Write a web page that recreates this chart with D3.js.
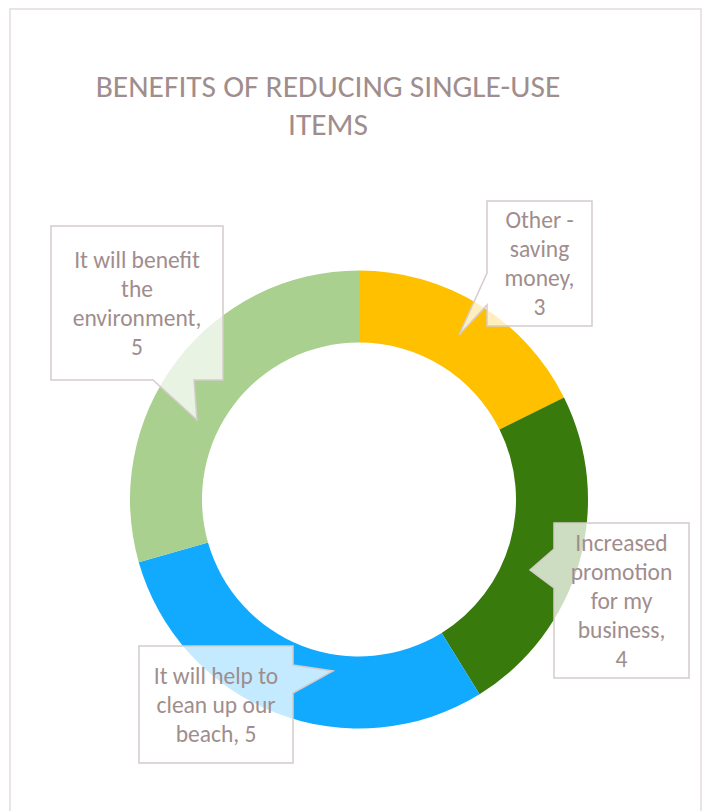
<!DOCTYPE html>
<html>
<head>
<meta charset="utf-8">
<script src="https://cdn.jsdelivr.net/npm/d3@7"></script>
<style>
  body { margin: 0; background: #fff; }
  text { font-family: Carlito, Lato, "Open Sans", sans-serif; }
</style>
</head>
<body>
<svg id="chart" width="703" height="811"></svg>
<script>
// chart data
var categories = ["Other - saving money", "Increased promotion for my business", "It will help to clean up our beach", "It will benefit the environment"];
var values = [3, 4, 5, 5];
var colors = ["#FFC000", "#387A0B", "#12AAFF", "#A9D08E"];
var labelLines = [
  ["Other -", "saving", "money,", "3"],
  ["Increased", "promotion", "for my", "business,", "4"],
  ["It will help to", "clean up our", "beach, 5"],
  ["It will benefit", "the", "environment,", "5"]
];
var titleLines = ["BENEFITS OF REDUCING SINGLE-USE", "ITEMS"];

// callout layout: box x0,y0,x1,y1, tail base + tip + base
var callouts = [
  {box: [487, 201, 592, 326], tail: [[487, 273], [459, 335], [487, 305]]},
  {box: [554, 523, 689, 678], tail: [[554, 549], [530, 570], [554, 588]]},
  {box: [139, 646, 293, 763], tail: [[293, 665], [333, 671], [293, 693]]},
  {box: [51, 226, 223, 380], tail: [[153, 380], [197, 420], [194, 380]]}
];

var svg = d3.select('#chart');
var cx = 359, cy = 499.5, outerR = 229, innerR = 157;
var textColor = '#A08D8D';

// chart frame
svg.append('rect')
  .attr('x', 10).attr('y', 9).attr('width', 691).attr('height', 820)
  .attr('fill', '#fff').attr('stroke', '#E3DBDB').attr('stroke-width', 1.5);

// title
svg.append('text')
  .attr('text-anchor', 'middle')
  .attr('fill', textColor)
  .style('font-size', '31.5px')
  .selectAll('tspan').data(titleLines).enter()
  .append('tspan')
  .attr('x', 328)
  .attr('y', (d, i) => 97 + i * 38)
  .text(d => d);

var pie = d3.pie().sort(null).value(d => d);
var arc = d3.arc().innerRadius(innerR).outerRadius(outerR);

var g = svg.append('g').attr('transform', `translate(${cx},${cy})`);
g.selectAll('path').data(pie(values)).enter()
  .append('path')
  .attr('d', arc)
  .attr('fill', (d, i) => colors[i]);

// callouts
var line = d3.line();
callouts.forEach(function (c, i) {
  var b = c.box, t = c.tail;
  var pts;
  if (t[0][0] === b[0] && t[2][0] === b[0]) {
    // tail on left side
    pts = [[b[0], b[1]], [b[2], b[1]], [b[2], b[3]], [b[0], b[3]], t[2], t[1], t[0]];
  } else if (t[0][0] === b[2]) {
    // tail on right side
    pts = [[b[0], b[1]], [b[2], b[1]], t[0], t[1], t[2], [b[2], b[3]], [b[0], b[3]]];
  } else {
    // tail on bottom
    pts = [[b[0], b[1]], [b[2], b[1]], [b[2], b[3]], t[2], t[1], t[0], [b[0], b[3]]];
  }
  svg.append('path')
    .attr('d', line(pts) + 'Z')
    .attr('fill', 'rgba(255,255,255,0.75)')
    .attr('stroke', '#D5CBCB')
    .attr('stroke-width', 1.5);

  var lines = labelLines[i];
  var lh = 29;
  var mx = (b[0] + b[2]) / 2, my = (b[1] + b[3]) / 2;
  var top = my - (lines.length - 1) * lh / 2;
  svg.append('text')
    .attr('text-anchor', 'middle')
    .attr('fill', textColor)
    .style('font-size', '23.5px')
    .selectAll('tspan').data(lines).enter()
    .append('tspan')
    .attr('x', mx)
    .attr('y', (d, k) => top + k * lh)
    .attr('dy', '0.35em')
    .text(d => d);
});
</script>
</body>
</html>
